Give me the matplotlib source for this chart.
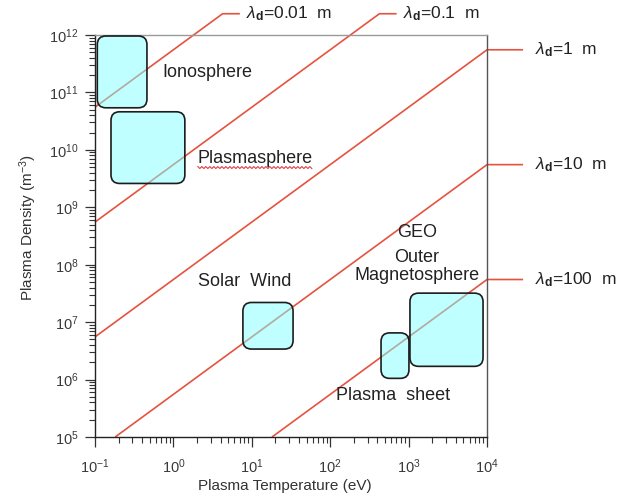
import numpy as np
import matplotlib
matplotlib.use("Agg")
import matplotlib.pyplot as plt
from matplotlib.patches import FancyBboxPatch
from matplotlib.ticker import LogLocator, NullFormatter
from matplotlib.transforms import IdentityTransform

plt.rcParams["font.family"] = ["Liberation Sans", "DejaVu Sans"]
plt.rcParams["mathtext.fontset"] = "custom"
plt.rcParams["mathtext.rm"] = "Liberation Sans"
plt.rcParams["mathtext.it"] = "Liberation Sans:italic"
plt.rcParams["mathtext.bf"] = "Liberation Sans:bold"

# ── data ────────────────────────────────────────────────────────────────────
DEBYE_LENGTHS = [0.01, 0.1, 1, 10, 100]          # metres
DEBYE_LABELS = ["0.01", "0.1", "1", "10", "100"]

REGIONS = ["Ionosphere", "Plasmasphere", "Solar Wind", "GEO", "Plasma sheet"]
T_LO = [0.107, 0.16, 7.7, 1040, 445]             # eV
T_HI = [0.46, 1.4, 33.6, 8900, 1010]
N_LO = [5.4e10, 2.6e9, 3.4e6, 1.7e6, 1.05e6]     # m^-3
N_HI = [9.6e11, 4.6e10, 2.2e7, 3.2e7, 6.5e6]

# ── style ───────────────────────────────────────────────────────────────────
XLIM = (1e-1, 1e4)
YLIM = (1e5, 1e12)
LINE_COL = "#e5533f"
BOX_FILL = (0.5, 1.0, 1.0, 0.5)
BOX_EDGE = "#1c1c1c"
TEXT_COL = "#222222"
EPS0_OVER_E = 8.854e-12 / 1.602e-19   # n = eps0 T / (e lambda^2)


def debye_density(T, lam):
    return EPS0_OVER_E * np.asarray(T) / lam ** 2


fig = plt.figure(figsize=(6.32, 4.97), dpi=100)
ax = fig.add_axes([0.1503, 0.1207, 0.6203, 0.8089])
ax.set_xscale("log")
ax.set_yscale("log")
ax.set_xlim(*XLIM)
ax.set_ylim(*YLIM)

for axis in (ax.xaxis, ax.yaxis):
    axis.set_major_locator(LogLocator(base=10, numticks=20))
    axis.set_minor_locator(LogLocator(base=10, subs=np.arange(2, 10), numticks=20))
    axis.set_minor_formatter(NullFormatter())
ax.tick_params(which="major", direction="out", length=7, width=0.9, labelsize=10.5,
               color="#333333", labelcolor="#3a3a3a")
ax.tick_params(which="minor", direction="out", length=4, width=0.8, color="#333333")
ax.tick_params(axis="x", pad=8)
ax.tick_params(axis="y", pad=5)
ax.spines["left"].set_color("#222222")
ax.spines["bottom"].set_color("#222222")
ax.spines["top"].set_color("#9a9a9a")
ax.spines["right"].set_color("#555555")
for s in ax.spines.values():
    s.set_linewidth(1.0)

ax.set_xlabel("Plasma Temperature (eV)", fontsize=11, color="#333333")
ax.set_ylabel(r"Plasma Density (m$^{-3}$)", fontsize=11, color="#333333")
ax.xaxis.set_label_coords(0.485, -0.105)
ax.yaxis.set_label_coords(-0.143, 0.522)

# ── Debye-length lines, run past the frame to their labels ─────────────────
N_TOP = 10 ** 12.37
for lam, lab in zip(DEBYE_LENGTHS, DEBYE_LABELS):
    t0 = max(XLIM[0], YLIM[0] / debye_density(1.0, lam))
    t1 = min(XLIM[1], N_TOP / debye_density(1.0, lam))
    T = np.array([t0, t1])
    n = debye_density(T, lam)
    if t1 < XLIM[1]:
        # exits through the top
        t2 = t1 * 10 ** 0.22
        tl = t2 * 10 ** 0.08
    else:
        # exits through the right side
        t2 = t1 * 10 ** 0.46
        tl = t1 * 10 ** 0.61
    ax.plot(np.r_[T, t2], np.r_[n, n[-1]], color=LINE_COL, lw=1.2,
            clip_on=False, zorder=1, solid_capstyle="butt")
    ax.text(tl, n[-1], r"$\lambda_\mathbf{d}$=" + lab + "  m", fontsize=12.5,
            color=TEXT_COL, va="center", ha="left", clip_on=False)

# ── region boxes, rounded in axes space so corners stay circular ───────────
to_axes = ax.transData + ax.transAxes.inverted()
bbox = ax.get_window_extent()
aspect = bbox.width / bbox.height
for t_lo, t_hi, n_lo, n_hi in zip(T_LO, T_HI, N_LO, N_HI):
    (x0, y0), (x1, y1) = to_axes.transform([(t_lo, n_lo), (t_hi, n_hi)])
    ax.add_patch(FancyBboxPatch(
        (x0, y0), x1 - x0, y1 - y0,
        boxstyle="round,pad=0,rounding_size=0.022",
        mutation_aspect=aspect,
        transform=ax.transAxes, facecolor=BOX_FILL, edgecolor=BOX_EDGE,
        linewidth=1.2, zorder=3))

# ── region labels ───────────────────────────────────────────────────────────
TXT = dict(fontsize=13, color=TEXT_COL, zorder=4)
ax.text(0.72, 2.2e11, "Ionosphere", ha="left", va="center", **TXT)
ps = ax.text(2.05, 7.2e9, "Plasmasphere", ha="left", va="center", **TXT)
ax.text(8.2, 5.2e7, "Solar  Wind", ha="center", va="center", **TXT)
ax.text(1280, 3.7e8, "GEO", ha="center", va="center", **TXT)
ax.text(1260, 1.36e8, "Outer", ha="center", va="center", **TXT)
ax.text(1280, 6.6e7, "Magnetosphere", ha="center", va="center", **TXT)
ax.text(630, 5.3e5, "Plasma  sheet", ha="center", va="center", **TXT)

# wavy underline under "Plasmasphere"
fig.canvas.draw()
bb = ps.get_window_extent()
xs = np.arange(bb.x0, bb.x1, 2.0)
ys = bb.y0 - 1 + np.where(np.arange(len(xs)) % 2 == 0, 1.0, -1.0)
fig.add_artist(plt.Line2D(xs, ys, transform=IdentityTransform(),
                          color="#e04040", lw=0.8))

fig.savefig("out.png", dpi=100)
